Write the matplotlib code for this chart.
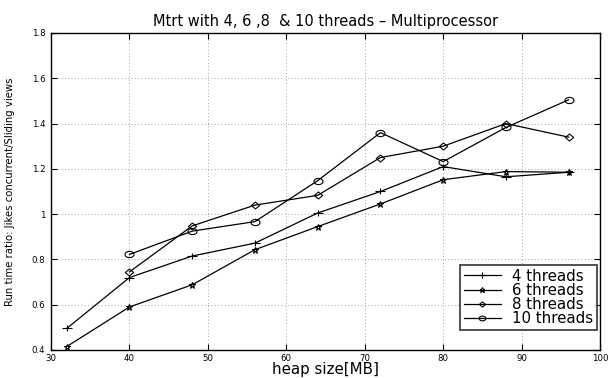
import matplotlib
matplotlib.use('Agg')
import matplotlib.pyplot as plt
from matplotlib.path import Path
import numpy as np

plt.rcParams['font.family'] = ['DejaVu Sans']

heap = [32, 40, 48, 56, 64, 72, 80, 88, 96]
heap_short = [40, 48, 56, 64, 72, 80, 88, 96]

t4 = [0.495, 0.72, 0.815, 0.872, 1.005, 1.10, 1.21, 1.165, 1.185]
t6 = [0.415, 0.59, 0.688, 0.843, 0.945, 1.045, 1.152, 1.188, 1.185]
t8 = [0.745, 0.948, 1.04, 1.083, 1.25, 1.30, 1.40, 1.34]
t10 = [0.822, 0.925, 0.967, 1.148, 1.36, 1.232, 1.383, 1.505]

labels = ['4 threads', '6 threads', '8 threads', '10 threads']


# the source picture is stretched sideways, so are its markers
def wide_marker(verts, sx=1.4):
    v = np.asarray(verts, dtype=float) * [sx, 1.0]
    return Path(v, closed=True)


ang = np.linspace(0, 2 * np.pi, 41)
ellipse = wide_marker(np.column_stack((np.cos(ang), np.sin(ang))), 1.45)
diamond = wide_marker([[0, 1], [1, 0], [0, -1], [-1, 0], [0, 1]], 1.2)
plus = Path([[-1.3, 0], [1.3, 0], [0, -1], [0, 1]], [Path.MOVETO, Path.LINETO, Path.MOVETO, Path.LINETO])

fig = plt.figure(figsize=(6.08, 3.78), dpi=100)
ax = fig.add_axes([0.0839, 0.0741, 0.9031, 0.8386])

line_kw = dict(color='black', linewidth=0.9, markerfacecolor='none', markeredgecolor='black', markeredgewidth=0.8)
ax.plot(heap, t4, marker=plus, markersize=6.5, label=labels[0], **line_kw)
ax.plot(heap, t6, marker='*', markersize=5, label=labels[1], **line_kw)
ax.plot(heap_short, t8, marker=diamond, markersize=6, label=labels[2], **line_kw)
ax.plot(heap_short, t10, marker=ellipse, markersize=6.5, label=labels[3], **line_kw)

ax.set_xlim(30, 100)
ax.set_ylim(0.4, 1.8)
ax.set_xticks(np.arange(30, 101, 10))
ax.set_yticks([0.4, 0.6, 0.8, 1.0, 1.2, 1.4, 1.6, 1.8])
ax.set_yticklabels(['0.4', '0.6', '0.8', '1', '1.2', '1.4', '1.6', '1.8'])
ax.tick_params(direction='in', labelsize=6.2, length=4, width=0.8, top=True, right=True)
ax.tick_params(axis='x', pad=3)
ax.tick_params(axis='y', pad=4)
ax.grid(True, linestyle=(0, (1, 3)), color='#888888', linewidth=0.6)
for sp in ax.spines.values():
    sp.set_linewidth(1.0)

ax.set_title('Mtrt with 4, 6 ,8  & 10 threads \u2013 Multiprocessor', fontsize=10.5, pad=5)
ax.set_xlabel('heap size[MB]', fontsize=10.8, labelpad=-0.5)
ax.set_ylabel('Run time ratio: Jikes concurrent/Sliding views', fontsize=7.3)
ax.yaxis.set_label_coords(-0.066, 0.5)

leg = ax.legend(loc='lower right', bbox_to_anchor=(0.995, 0.063), fontsize=10.8, frameon=True,
                fancybox=False, edgecolor='black', borderpad=0.25, labelspacing=-0.05,
                handlelength=2.5, handletextpad=0.75, borderaxespad=0, markerscale=0.75)
leg.get_frame().set_linewidth(1.2)

fig.savefig('out.png', dpi=100)
